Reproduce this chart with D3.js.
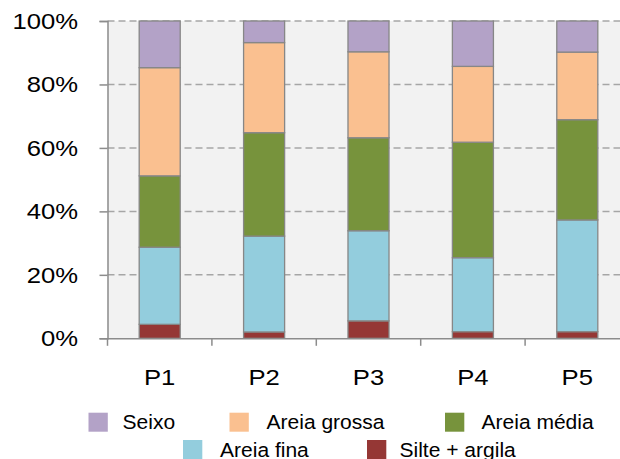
<!DOCTYPE html>
<html>
<head>
<meta charset="utf-8">
<script src="https://cdn.jsdelivr.net/npm/d3@7"></script>
<style>
  html, body { margin: 0; padding: 0; background: #fff; }
  svg { display: block; font-family: "Liberation Sans", Arial, sans-serif; }
</style>
</head>
<body>
<svg id="chart" width="620" height="459"></svg>
<script>
// Grain-size fractions (%) per sampling point
const points = ["P1", "P2", "P3", "P4", "P5"];
const seriesNames = ["Silte + argila", "Areia fina", "Areia média", "Areia grossa", "Seixo"];
const silteArgila = [4.4, 2.0, 5.5, 2.1, 2.1];
const areiaFina   = [24.3, 30.2, 28.4, 23.3, 35.2];
const areiaMedia  = [22.5, 32.6, 29.3, 36.4, 31.6];
const areiaGrossa = [34.1, 28.4, 27.1, 23.9, 21.3];
const seixo       = [14.7, 6.8, 9.7, 14.3, 9.8];
const yTicks = [0, 20, 40, 60, 80, 100];

const colors = {
  "Seixo": "#b3a2c7",
  "Areia grossa": "#fac090",
  "Areia média": "#77933c",
  "Areia fina": "#93cddd",
  "Silte + argila": "#953735"
};

const rows = points.map((p, i) => ({
  point: p,
  "Silte + argila": silteArgila[i],
  "Areia fina": areiaFina[i],
  "Areia média": areiaMedia[i],
  "Areia grossa": areiaGrossa[i],
  "Seixo": seixo[i]
}));

const svg = d3.select("#chart");
const plotLeft = 107.5, plotTop = 21, plotBottom = 338.3;
const step = 104.4;
const stretch = 1.14;

const x = d3.scaleBand()
  .domain(points)
  .range([plotLeft, plotLeft + step * points.length])
  .paddingInner(0.607)
  .paddingOuter(0.607 / 2);

const y = d3.scaleLinear().domain([0, 100]).range([plotBottom, plotTop]);

// plot background (runs past the right edge)
svg.append("rect")
  .attr("x", plotLeft).attr("y", plotTop)
  .attr("width", 620 - plotLeft).attr("height", plotBottom - plotTop)
  .attr("fill", "#f2f2f2");

// dashed gridlines
svg.append("g").selectAll("line")
  .data(yTicks.filter(d => d > 0))
  .join("line")
  .attr("x1", plotLeft).attr("x2", 620)
  .attr("y1", d => y(d)).attr("y2", d => y(d))
  .attr("stroke", "#a6a6a6")
  .attr("stroke-width", 1.5)
  .attr("stroke-dasharray", "7,4");

// stacked bars
const stack = d3.stack().keys(seriesNames)(rows);
svg.append("g").selectAll("g")
  .data(stack)
  .join("g")
  .attr("fill", s => colors[s.key])
  .selectAll("rect")
  .data(s => s)
  .join("rect")
  .attr("x", d => x(d.data.point))
  .attr("width", x.bandwidth())
  .attr("y", d => y(d[1]))
  .attr("height", d => y(d[0]) - y(d[1]))
  .attr("stroke", "#878787")
  .attr("stroke-width", 1.3);

// y axis
const yAxis = svg.append("g").attr("transform", `translate(${plotLeft},0)`)
  .call(d3.axisLeft(y).tickValues(yTicks).tickSize(8).tickFormat(""));
yAxis.select(".domain").attr("stroke", "#8c8c8c").attr("stroke-width", 1.5);
yAxis.selectAll(".tick line").attr("stroke", "#8c8c8c").attr("stroke-width", 1.5);

svg.append("g").selectAll("text")
  .data(yTicks)
  .join("text")
  .attr("transform", d => `translate(78,${y(d) + 8}) scale(${stretch},1)`)
  .attr("text-anchor", "end")
  .attr("font-size", 22.5)
  .attr("fill", "#000")
  .text(d => d + "%");

// x axis
const xAxis = svg.append("g").attr("transform", `translate(0,${plotBottom})`)
  .call(d3.axisBottom(x).tickSize(0).tickFormat(""));
xAxis.select(".domain").attr("stroke", "#8c8c8c").attr("stroke-width", 1.5);
const boundaries = d3.range(points.length + 1).map(i => plotLeft + i * x.step());
xAxis.selectAll("line.sep")
  .data(boundaries.filter(b => b < 620))
  .join("line")
  .attr("class", "sep")
  .attr("x1", d => d).attr("x2", d => d)
  .attr("y1", 0).attr("y2", 7.5)
  .attr("stroke", "#8c8c8c").attr("stroke-width", 1.5);

svg.append("g").selectAll("text")
  .data(points)
  .join("text")
  .attr("transform", d => `translate(${x(d) + x.bandwidth() / 2},385) scale(${stretch},1)`)
  .attr("text-anchor", "middle")
  .attr("font-size", 22.5)
  .attr("fill", "#000")
  .text(d => d);

// legend
const legendItems = [
  { name: "Seixo",          sx: 88.5,  tx: 122.5, row: 0 },
  { name: "Areia grossa",   sx: 229.5, tx: 266.5, row: 0 },
  { name: "Areia média",    sx: 445,   tx: 481.5, row: 0 },
  { name: "Areia fina",     sx: 183,   tx: 220,   row: 1 },
  { name: "Silte + argila", sx: 367,   tx: 399.5, row: 1 }
];
const rowTop = [412.7, 440];
const lg = svg.append("g");
lg.selectAll("rect")
  .data(legendItems)
  .join("rect")
  .attr("x", d => d.sx).attr("y", d => rowTop[d.row])
  .attr("width", 19.3).attr("height", 19)
  .attr("fill", d => colors[d.name]);
lg.selectAll("text")
  .data(legendItems)
  .join("text")
  .attr("transform", d => `translate(${d.tx},${rowTop[d.row] + 16.6}) scale(1.09,1)`)
  .attr("font-size", 19.3)
  .attr("fill", "#000")
  .text(d => d.name);
</script>
</body>
</html>
